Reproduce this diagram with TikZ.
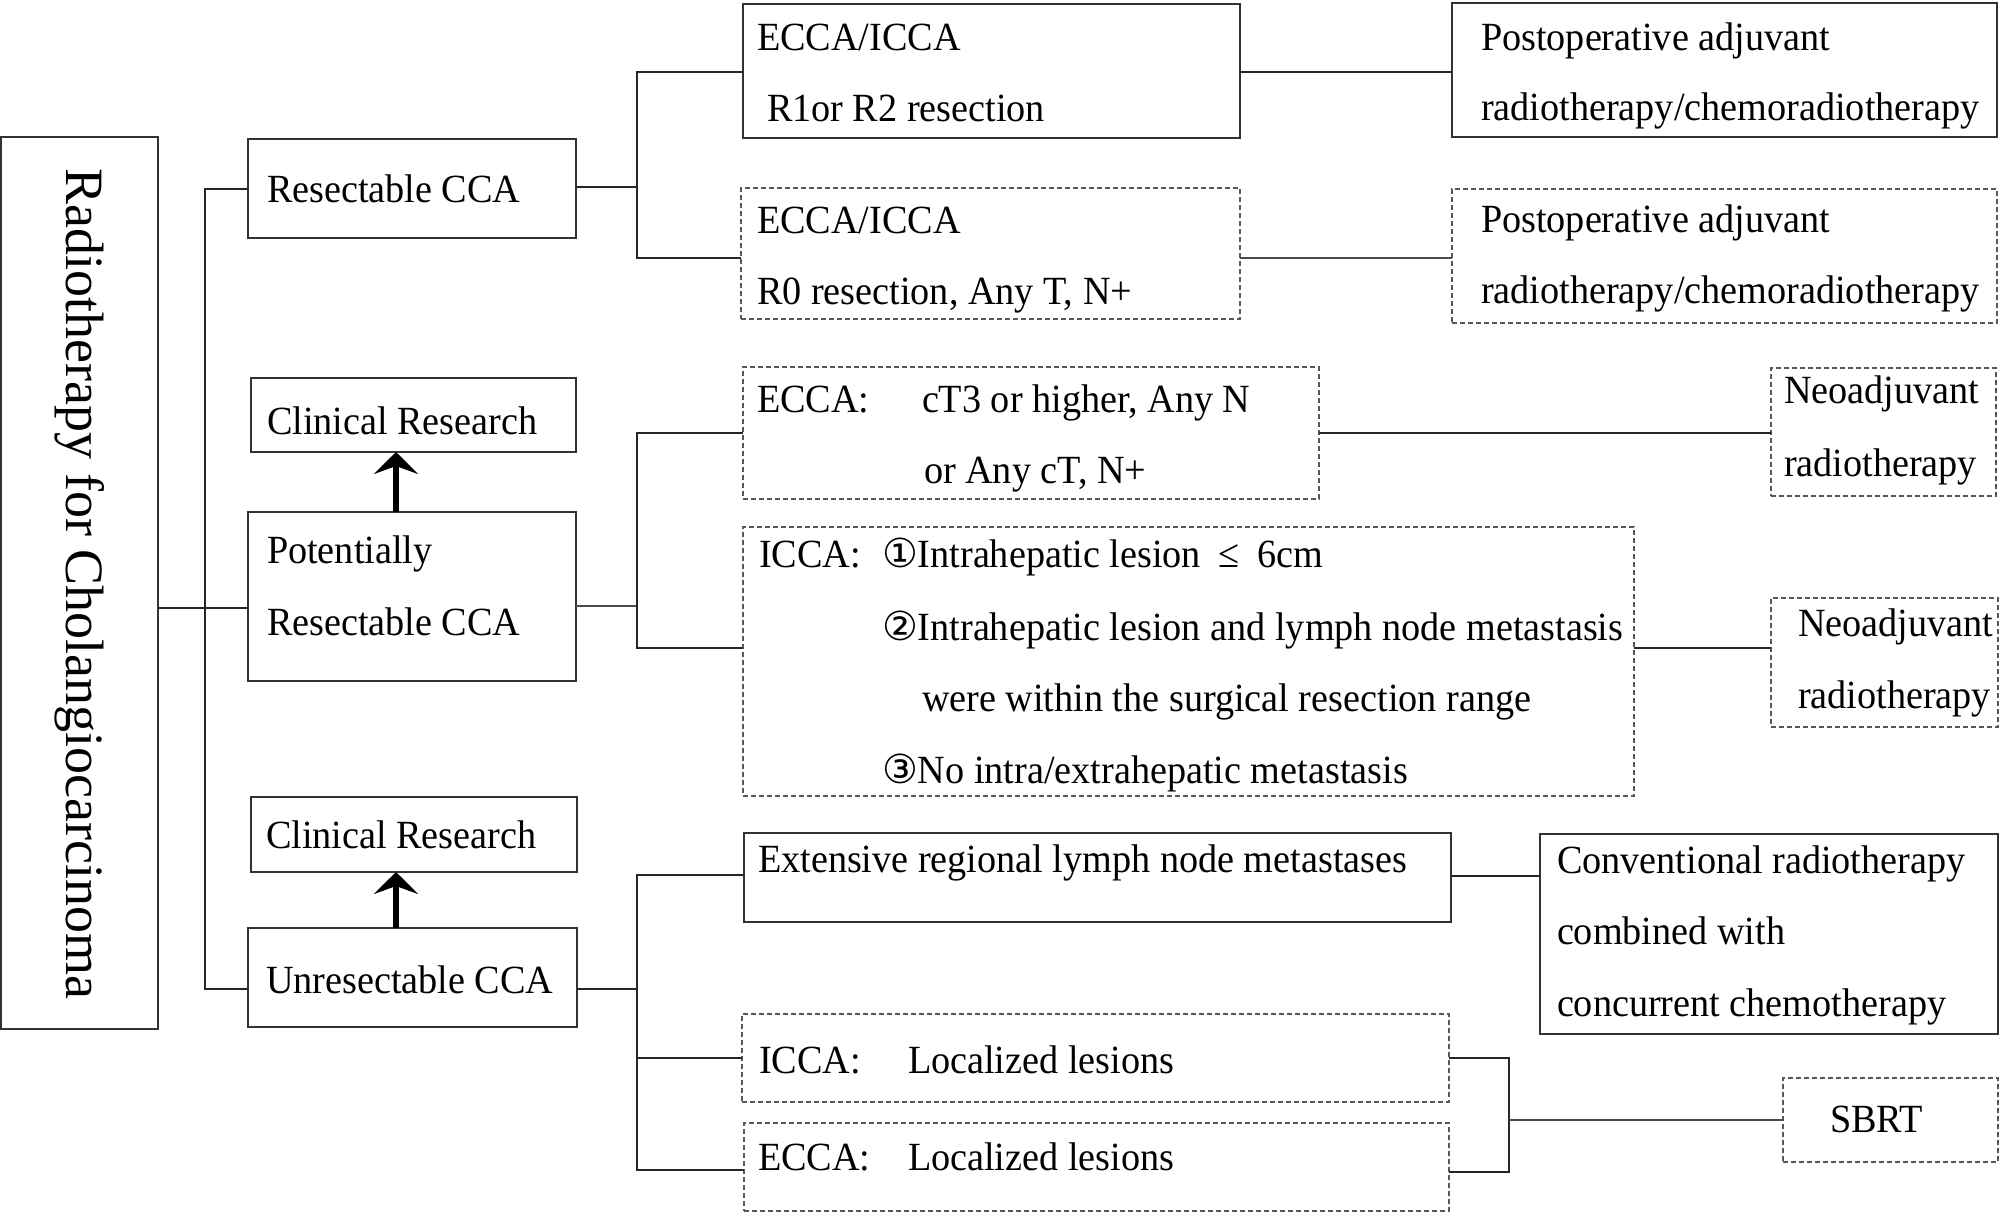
\documentclass[tikz,border=0pt]{standalone}
\usepackage{fontspec}
\setmainfont[FakeStretch=0.955]{Liberation Serif}
\newfontfamily\titlefont{Liberation Serif}
\newfontfamily\circfont{DejaVu Sans}
\usetikzlibrary{arrows.meta}
\tikzset{
  solidbox/.style={draw=black!80, line width=1.6pt, inner sep=0pt, outer sep=0pt},
  dashbox/.style={draw=black!65, line width=1.4pt, dash pattern=on 5pt off 3pt, inner sep=0pt, outer sep=0pt},
  conn/.style={draw=black!85, line width=2.2pt},
  thinconn/.style={draw=black!70, line width=1.3pt},
  uparr/.style={line width=6pt, -{Stealth[length=22pt, width=44pt, inset=8pt]}},
  txt/.style={inner sep=0pt, outer sep=0pt, anchor=base west, font=\fontsize{40}{48}\selectfont},
}
\newcommand\bx[6]{\node[#6, minimum width={(#4)-(#2)}, minimum height={(#5)-(#3)}] (#1) at ({((#2)+(#4))/2},{((#3)+(#5))/2}) {};}
\begin{document}
\begin{tikzpicture}[x=1pt,y=-1pt]
\useasboundingbox (0,0) rectangle (2008,1216);
% boxes
\bx{main}{1}{137}{158}{1029}{solidbox}
\bx{res}{248}{139}{576}{238}{solidbox}
\bx{cra}{251}{378}{576}{452}{solidbox}
\bx{pot}{248}{512}{576}{681}{solidbox}
\bx{crb}{251}{797}{577}{872}{solidbox}
\bx{unres}{248}{928}{577}{1027}{solidbox}
\bx{ra}{743}{4}{1240}{138}{solidbox}
\bx{rb}{741}{188}{1240}{319}{dashbox}
\bx{posta}{1452}{3}{1997}{137}{solidbox}
\bx{postb}{1452}{189}{1997}{323}{dashbox}
\bx{eccat}{743}{367}{1319}{499}{dashbox}
\bx{icca}{743}{527}{1634}{796}{dashbox}
\bx{neoa}{1771}{368}{1996}{496}{dashbox}
\bx{neob}{1771}{598}{1998}{727}{dashbox}
\bx{ext}{744}{833}{1451}{922}{solidbox}
\bx{conv}{1540}{834}{1998}{1034}{solidbox}
\bx{iccal}{742}{1014}{1449}{1102}{dashbox}
\bx{eccal}{744}{1123}{1449}{1211}{dashbox}
\bx{sbrt}{1783}{1078}{1998}{1162}{dashbox}
% title
\node[inner sep=0pt, rotate=-90, font=\titlefont\fontsize{54}{60}\selectfont] (title) at (80,584) {Radiotherapy for Cholangiocarcinoma};
% texts
\node[txt] (t1) at (267,202) {Resectable CCA};
\node[txt] (t2) at (267,434) {Clinical Research};
\node[txt] (t3) at (267,563) {Potentially};
\node[txt] (t4) at (267,635) {Resectable CCA};
\node[txt] (t5) at (266,848) {Clinical Research};
\node[txt] (t6) at (266,993) {Unresectable CCA};
\node[txt] (t7) at (757,50) {ECCA/ICCA};
\node[txt] (t8) at (767,121) {R1or R2 resection};
\node[txt] (t9) at (757,233) {ECCA/ICCA};
\node[txt] (t10) at (757,304) {R0 resection, Any T, N+};
\node[txt] (t11) at (1481,50) {Postoperative adjuvant};
\node[txt] (t12) at (1481,120) {radiotherapy/chemoradiotherapy};
\node[txt] (t13) at (1481,232) {Postoperative adjuvant};
\node[txt] (t14) at (1481,303) {radiotherapy/chemoradiotherapy};
\node[txt] (t15) at (757,412) {ECCA:};
\node[txt] (t16) at (922,412) {cT3 or higher, Any N};
\node[txt] (t17) at (924,483) {or Any cT, N+};
\node[txt] (t18) at (1784,403) {Neoadjuvant};
\node[txt] (t19) at (1784,476) {radiotherapy};
\node[txt] (t20) at (759,567) {ICCA:};
\node[txt] (t21) at (882,567) {{\circfont ①}Intrahepatic lesion\hspace{8pt} ≤\hspace{8pt} 6cm};
\node[txt] (t22) at (882,640) {{\circfont ②}Intrahepatic lesion and lymph node metastasis};
\node[txt] (t23) at (922,711) {were within the surgical resection range};
\node[txt] (t24) at (882,783) {{\circfont ③}No intra/extrahepatic metastasis};
\node[txt] (t25) at (1798,636) {Neoadjuvant};
\node[txt] (t26) at (1798,708) {radiotherapy};
\node[txt] (t27) at (758,872) {Extensive regional lymph node metastases};
\node[txt] (t28) at (1557,873) {Conventional radiotherapy};
\node[txt] (t29) at (1557,944) {combined with};
\node[txt] (t30) at (1557,1016) {concurrent chemotherapy};
\node[txt] (t31) at (759,1073) {ICCA:};
\node[txt] (t32) at (908,1073) {Localized lesions};
\node[txt] (t33) at (758,1170) {ECCA:};
\node[txt] (t34) at (908,1170) {Localized lesions};
\node[txt] (t35) at (1830,1132) {SBRT};
% coordinates
\coordinate (tra) at (205,189);
\coordinate (trb) at (205,989);
\coordinate (trm) at (205,608);
\coordinate (ax) at (396,0);
\coordinate (ba) at (637,72);
\coordinate (bb) at (637,258);
\coordinate (bc) at (637,433);
\coordinate (bd) at (637,648);
\coordinate (be) at (637,875);
\coordinate (bf) at (637,1058);
\coordinate (bg) at (637,1170);
\coordinate (sa) at (1509,1058);
\coordinate (sb) at (1509,1172);
\coordinate (sm) at (1509,1120);
% connectors
\draw[conn] (main.east |- trm) -- (pot.west |- trm);
\draw[conn] (res.west |- tra) -- (tra) -- (trb) -- (unres.west |- trb);
\draw[uparr] (pot.north -| ax) -- (cra.south -| ax);
\draw[uparr] (unres.north -| ax) -- (crb.south -| ax);
\draw[conn] (res.east |- 0,187) -- (637,187);
\draw[conn] (ra.west |- ba) -- (ba) -- (bb) -- (rb.west |- bb);
\draw[conn] (ra.east |- ba) -- (posta.west |- ba);
\draw[thinconn] (rb.east |- bb) -- (postb.west |- bb);
\draw[thinconn] (pot.east |- 0,606) -- (637,606);
\draw[conn] (eccat.west |- bc) -- (bc) -- (bd) -- (icca.west |- bd);
\draw[conn] (eccat.east |- bc) -- (neoa.west |- bc);
\draw[conn] (icca.east |- bd) -- (neob.west |- bd);
\draw[conn] (unres.east |- trb) -- (637,989);
\draw[conn] (ext.west |- be) -- (be) -- (bg) -- (eccal.west |- bg);
\draw[conn] (bf) -- (iccal.west |- bf);
\draw[conn] (ext.east |- 0,876) -- (conv.west |- 0,876);
\draw[conn] (iccal.east |- sa) -- (sa) -- (sb) -- (eccal.east |- sb);
\draw[thinconn] (sm) -- (sbrt.west |- sm);
\end{tikzpicture}
\end{document}
